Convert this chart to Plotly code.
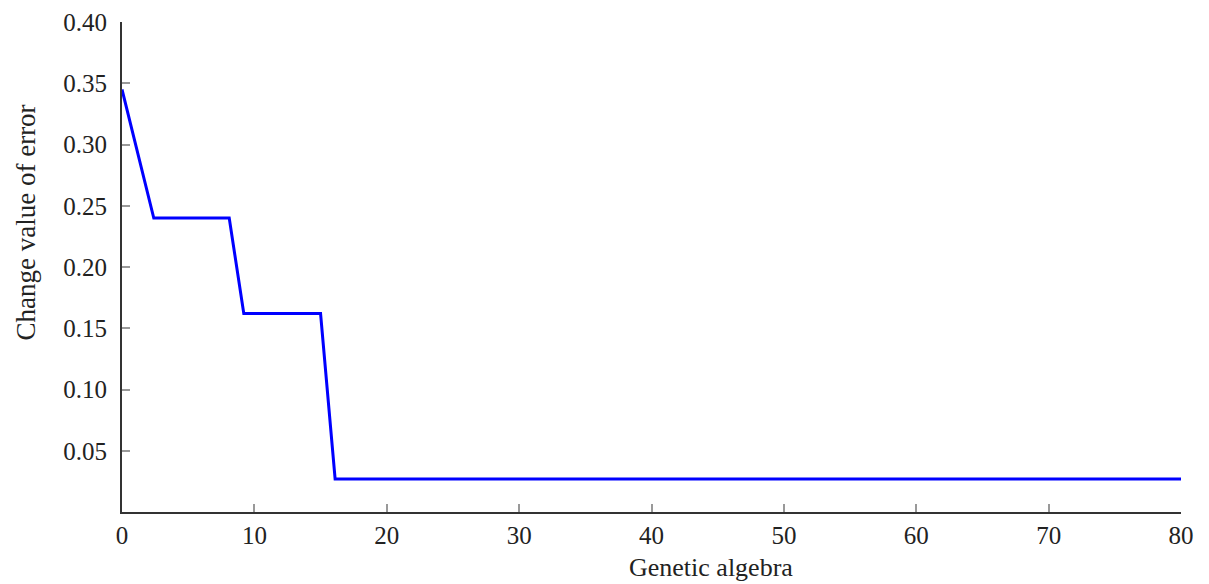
import plotly.graph_objects as go

generation = [0, 2.4, 8.1, 9.2, 15.0, 16.1, 80]
error_value = [0.345, 0.240, 0.240, 0.162, 0.162, 0.027, 0.027]

x_ticks = [0, 10, 20, 30, 40, 50, 60, 70, 80]
y_ticks = [0.05, 0.10, 0.15, 0.20, 0.25, 0.30, 0.35, 0.40]
y_tick_text = ["0.05", "0.10", "0.15", "0.20", "0.25", "0.30", "0.35", "0.40"]

x_title = "Genetic algebra"
y_title = "Change value of error"

font_family = "Liberation Serif"

fig = go.Figure()
fig.add_trace(go.Scatter(
    x=generation, y=error_value, mode="lines",
    line=dict(color="#0000FF", width=3),
    showlegend=False,
))

fig.update_layout(
    width=1209, height=584,
    margin=dict(l=114, r=36, t=14, b=80),
    plot_bgcolor="white", paper_bgcolor="white",
    font=dict(family=font_family, size=25, color="#222222"),
    xaxis=dict(
        range=[0, 80], tickvals=x_ticks,
        ticks="inside", ticklen=8, tickcolor="#999999", tickwidth=1.5,
        showline=True, linecolor="#333333", linewidth=2,
        showgrid=False, zeroline=False, automargin=False,
        tickfont=dict(size=25),
    ),
    yaxis=dict(
        range=[0, 0.40], tickvals=y_ticks, ticktext=y_tick_text,
        ticks="inside", ticklen=8, tickcolor="#999999", tickwidth=1.5,
        showline=True, linecolor="#333333", linewidth=2,
        showgrid=False, zeroline=False, automargin=False,
        tickfont=dict(size=25),
        ticklabelstandoff=8,
    ),
    annotations=[
        dict(text=x_title, xref="paper", yref="paper", x=0.556, y=-0.114,
             xanchor="center", yanchor="middle", showarrow=False,
             font=dict(size=26, family=font_family, color="#222222")),
        dict(text=y_title, xref="paper", yref="paper", x=-0.091, y=0.59,
             xanchor="center", yanchor="middle", showarrow=False, textangle=-90,
             font=dict(size=27, family=font_family, color="#222222")),
    ],
)

fig.write_html("out.html")
